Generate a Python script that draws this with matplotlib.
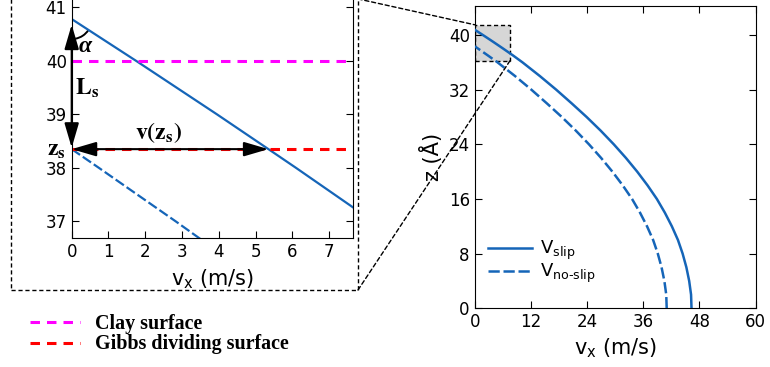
import matplotlib
matplotlib.use('Agg')
import matplotlib.pyplot as plt
from matplotlib.patches import Rectangle, Arc, ConnectionPatch
from matplotlib.transforms import ScaledTranslation

# velocity profiles (z in Angstrom, v in m/s)
z_slip = [0, 2, 4, 6, 8, 10, 12, 14, 16, 18, 20, 22, 24, 26, 28, 30, 32, 34, 36, 37, 38, 38.35, 39, 40, 40.78]
v_slip = [46.3, 46.2, 45.8, 45.2, 44.4, 43.4, 42.1, 40.6, 38.9, 36.9, 34.7, 32.3, 29.7, 26.9, 23.9, 20.7,
          17.4, 13.9, 10.2, 8.2, 6.1, 5.35, 3.95, 1.75, 0.0]
z_noslip = [0, 2, 4, 6, 8, 10, 12, 14, 16, 18, 20, 22, 24, 26, 28, 30, 32, 34, 36, 37, 38, 38.35]
v_noslip = [41.0, 40.9, 40.5, 39.9, 39.1, 38.1, 36.8, 35.3, 33.6, 31.6, 29.4, 27.0, 24.4, 21.6, 18.6, 15.4,
            12.1, 8.6, 4.87, 2.83, 0.74, 0.0]

clay_z = 40.0
gibbs_z = 38.35
slip_wall_z = 40.78
v_zs = 5.35

main_xticks = [0, 12, 24, 36, 48, 60]
main_yticks = [0, 8, 16, 24, 32, 40]
inset_xticks = [0, 1, 2, 3, 4, 5, 6, 7]
inset_yticks = [37, 38, 39, 40, 41]

blue = '#1565b8'

fig = plt.figure(figsize=(7.7, 3.67), dpi=100)

# ---- main plot ----
ax = fig.add_axes([0.6165, 0.16, 0.3649, 0.8237])
ax.plot(v_slip, z_slip, color=blue, lw=1.8, label=r'$\mathregular{V_{slip}}$', zorder=3)
ax.plot(v_noslip, z_noslip, color=blue, lw=1.8, dashes=(4.5, 1.5), label=r'$\mathregular{V_{no‐slip}}$', zorder=3)
ax.set_xlim(0, 60)
ax.set_ylim(0, 44.25)
ax.set_xticks(main_xticks)
ax.set_yticks(main_yticks)
ax.tick_params(direction='in', top=True, right=True, labelsize=12, length=5)
ax.set_xlabel(r'$\mathregular{v_x}$ (m/s)', fontsize=15, labelpad=4)
ax.set_ylabel('z (Å)', fontsize=15, labelpad=4)
ax.legend(frameon=False, loc='center left', bbox_to_anchor=(0.047, 0.153), borderpad=0, borderaxespad=0,
          handlelength=2.45, handletextpad=0.45, labelspacing=0, fontsize=13)

# zoom window
zoom_rect = Rectangle((0, 36.25), 7.55, 41.5 - 36.25, facecolor='#d6d6d6', edgecolor='k', lw=1,
                      ls=(0, (3, 2)), zorder=1)
ax.add_patch(zoom_rect)

# ---- inset ----
ins = fig.add_axes([0.0931, 0.3515, 0.3649, 0.7016])
ins.plot(v_slip, z_slip, color=blue, lw=1.6)
ins.plot(v_noslip, z_noslip, color=blue, lw=1.6, dashes=(4.5, 1.5))
clay = ins.axhline(clay_z, color='magenta', lw=2.2, dashes=(3.1, 2.3), label='Clay surface')
gibbs = ins.axhline(gibbs_z, color='red', lw=2.2, dashes=(3.1, 2.3), label='Gibbs dividing surface')
ins.set_xlim(0, 7.64)
ins.set_ylim(36.69, 41.5)
ins.set_xticks(inset_xticks)
ins.set_yticks(inset_yticks)
ins.tick_params(direction='in', top=True, right=True, labelsize=12, length=5)
ins.set_xlabel(r'$\mathregular{v_x}$ (m/s)', fontsize=15, labelpad=5)

arrow = dict(arrowstyle='<|-|>,head_length=0.75,head_width=0.22', color='k', lw=1.5,
             mutation_scale=20, shrinkA=0, shrinkB=0)
ins.annotate('', xy=(0, slip_wall_z), xytext=(0, gibbs_z), arrowprops=dict(arrow, shrinkA=1, shrinkB=4),
             annotation_clip=False)
ins.annotate('', xy=(v_zs, gibbs_z), xytext=(0, gibbs_z), arrowprops=arrow, annotation_clip=False)

tr = fig.dpi_scale_trans + ScaledTranslation(0, slip_wall_z, ins.transData)
ins.add_patch(Arc((0, 0), 0.4, 0.4, theta1=280, theta2=327, transform=tr, color='k', lw=1.4))

ins.text(0.36, 40.26, 'α', fontfamily='Liberation Serif', fontweight='bold', fontstyle='italic',
         fontsize=17, ha='center', va='center')
ins.text(0.1, 39.5, r'$\mathbf{L_s}$', math_fontfamily='stix', fontsize=17, ha='left', va='center')
ins.text(2.35, 38.42, r'$\mathbf{v(z_s)}$', math_fontfamily='stix', fontsize=17, ha='center', va='bottom')
ins.text(-0.15, gibbs_z, r'$\mathbf{z_s}$', math_fontfamily='stix', fontsize=17, ha='right', va='center',
         clip_on=False)

# dashed frame round the inset and the connector lines
bx0, by0, bx1, by1 = 11 / 770, 77 / 367, 358 / 770, 1.003
fig.add_artist(Rectangle((bx0, by0), bx1 - bx0, by1 - by0, transform=fig.transFigure, fill=False,
                         ec='k', lw=1, ls=(0, (3, 2))))
fig.add_artist(ConnectionPatch(xyA=(bx1, by1), coordsA=fig.transFigure, xyB=(0, 41.5), coordsB=ax.transData,
                               color='k', lw=1, ls=(0, (3, 2))))
fig.add_artist(ConnectionPatch(xyA=(bx1, by0), coordsA=fig.transFigure, xyB=(7.55, 36.25),
                               coordsB=ax.transData, color='k', lw=1, ls=(0, (3, 2))))

fig.legend(handles=[clay, gibbs], loc='center left', bbox_to_anchor=(30 / 770, 33 / 367), frameon=False,
           borderpad=0, borderaxespad=0, handlelength=2.5, handletextpad=0.75, labelspacing=0.05,
           prop={'family': 'Liberation Serif', 'weight': 'bold', 'size': 14.4})

fig.savefig('out.png', dpi=100)
